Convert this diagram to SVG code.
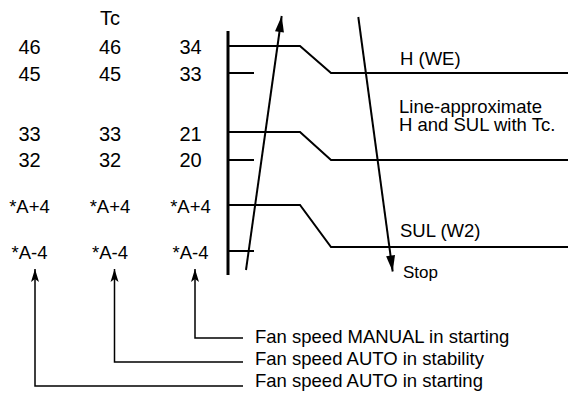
<svg xmlns="http://www.w3.org/2000/svg" width="569" height="397" viewBox="0 0 569 397">
<style>
text{font-family:"Liberation Sans",Arial,sans-serif;fill:#000}
.num{font-size:20px;text-anchor:middle}
.av{font-size:18.5px;text-anchor:middle}
.lbl{font-size:18.5px}
.thick{fill:none;stroke:#000;stroke-width:2}
.axis{fill:none;stroke:#000;stroke-width:3}
.conn{fill:none;stroke:#000;stroke-width:1.5}
</style>
<defs>
<marker id="sm" viewBox="-14 -5 15 10" refX="0" refY="0" markerWidth="15" markerHeight="10" markerUnits="userSpaceOnUse" orient="auto">
<path d="M0,0 L-13,-4 L-10,0 L-13,4 Z" fill="#000"/>
</marker>
<marker id="big" viewBox="-17 -6 18 12" refX="0" refY="0" markerWidth="18" markerHeight="12" markerUnits="userSpaceOnUse" orient="auto">
<path d="M0,0 L-16,-4.5 L-16,4.5 Z" fill="#000"/>
</marker>
</defs>
<g id="col-headers">
<text class="num" x="110" y="25">Tc</text>
</g>
<g id="values">
<text class="num" x="29.5" y="54">46</text>
<text class="num" x="110" y="54">46</text>
<text class="num" x="190.5" y="54">34</text>
<text class="num" x="29.5" y="81">45</text>
<text class="num" x="110" y="81">45</text>
<text class="num" x="190.5" y="81">33</text>
<text class="num" x="29.5" y="141">33</text>
<text class="num" x="110" y="141">33</text>
<text class="num" x="190.5" y="141">21</text>
<text class="num" x="29.5" y="167">32</text>
<text class="num" x="110" y="167">32</text>
<text class="num" x="190.5" y="167">20</text>
<text class="av" x="29.5" y="213">*A+4</text>
<text class="av" x="110" y="213">*A+4</text>
<text class="av" x="190.5" y="213">*A+4</text>
<text class="av" x="29.5" y="259">*A-4</text>
<text class="av" x="110" y="259">*A-4</text>
<text class="av" x="190.5" y="259">*A-4</text>
</g>
<g id="chart">
<line class="axis" x1="228" y1="31" x2="228" y2="275"/>
<path class="thick" d="M228,46 H300 L331,73 H568"/>
<line class="thick" x1="228" y1="73" x2="254" y2="73"/>
<path class="thick" d="M228,132 H300 L331,160 H568"/>
<line class="thick" x1="228" y1="160" x2="254" y2="160"/>
<path class="thick" d="M228,205 H300 L331,247 H568"/>
<line class="thick" x1="228" y1="251" x2="254" y2="251"/>
</g>
<g id="chart-labels">
<text class="lbl" x="400" y="65">H (WE)</text>
<text class="lbl" x="399" y="113">Line-approximate</text>
<text class="lbl" x="399" y="131">H and SUL with Tc.</text>
<text class="lbl" x="400" y="237">SUL (W2)</text>
<text x="403" y="278" font-size="17">Stop</text>
</g>
<g id="legend">
<text class="lbl" x="255" y="343">Fan speed MANUAL in starting</text>
<text class="lbl" x="255" y="365">Fan speed AUTO in stability</text>
<text class="lbl" x="255" y="387">Fan speed AUTO in starting</text>
</g>
<g id="connectors">
<line class="thick" x1="246" y1="270" x2="281.7" y2="16" marker-end="url(#big)"/>
<line class="thick" x1="358.3" y1="17" x2="392.7" y2="271.5" marker-end="url(#big)"/>
<polyline class="conn" points="243,338 195,338 195,269" marker-end="url(#sm)"/>
<polyline class="conn" points="243,362 114.5,362 114.5,269" marker-end="url(#sm)"/>
<polyline class="conn" points="243,386 35,386 35,269" marker-end="url(#sm)"/>
</g>
</svg>
